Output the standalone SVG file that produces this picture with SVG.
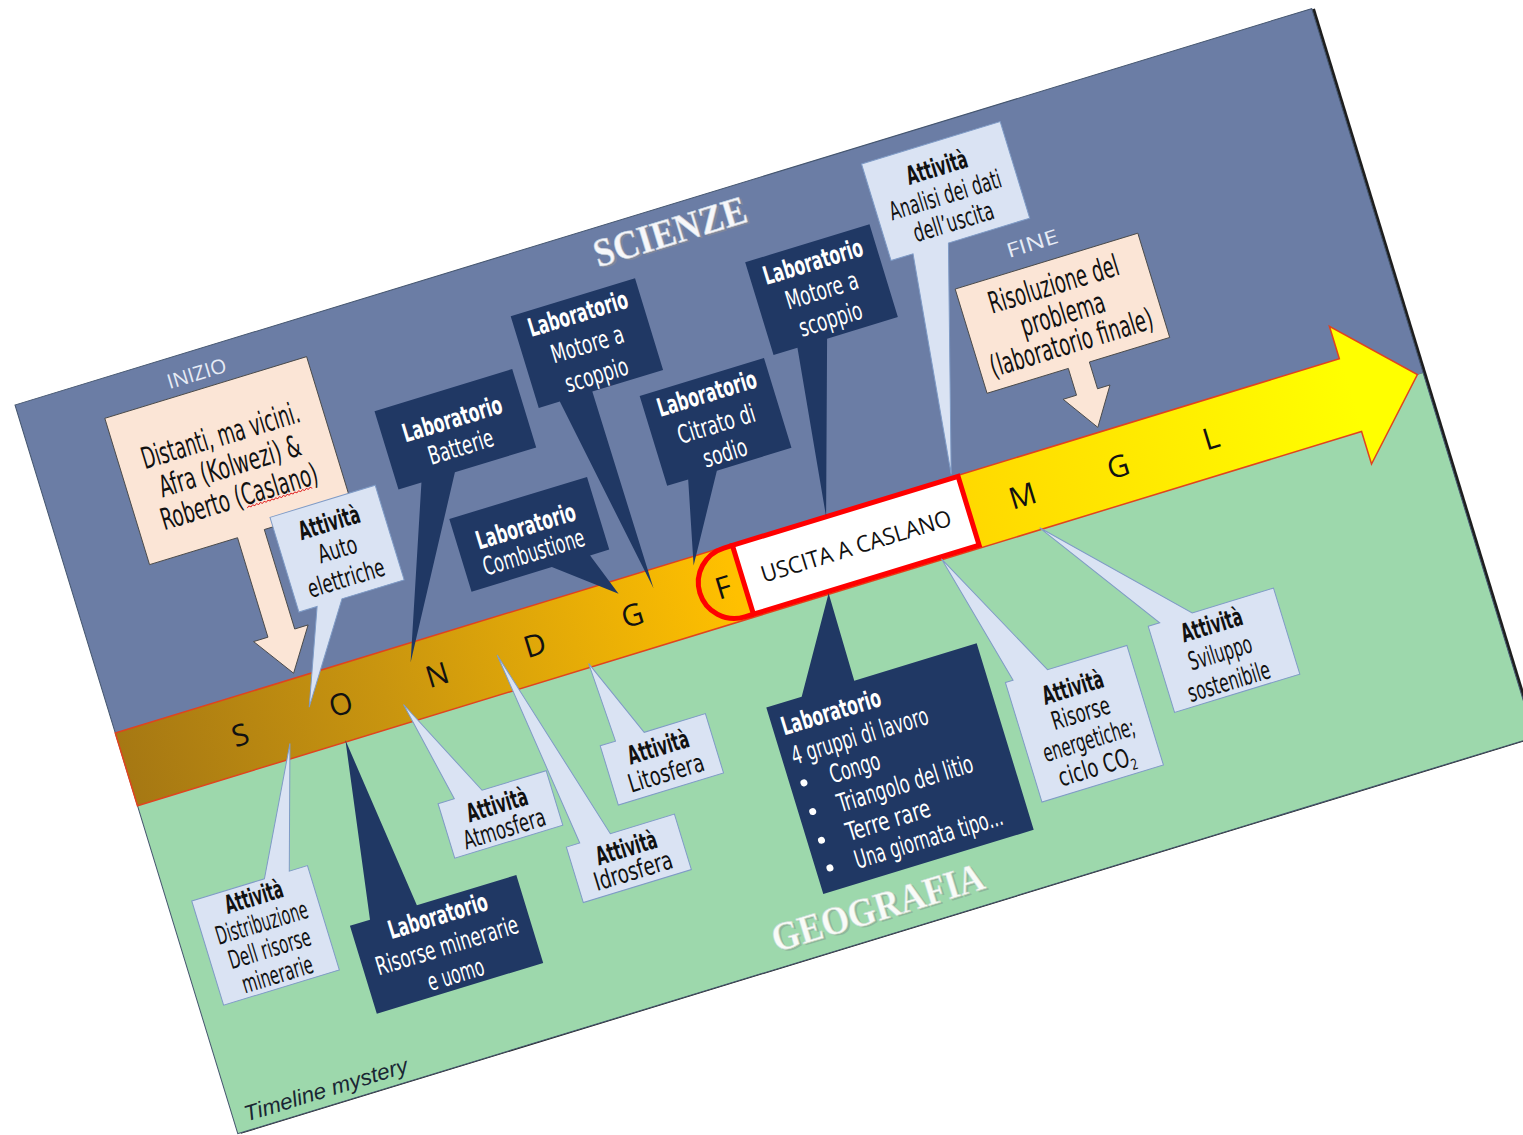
<svg xmlns="http://www.w3.org/2000/svg" width="1523" height="1135" viewBox="0 0 1523 1135">
<defs>
<linearGradient id="band" gradientUnits="userSpaceOnUse" x1="0" y1="0" x2="1350" y2="0">
<stop offset="0" stop-color="#a67813"/>
<stop offset="0.2" stop-color="#c9950f"/>
<stop offset="0.47" stop-color="#ffc000"/>
<stop offset="0.7" stop-color="#ffdf00"/>
<stop offset="0.95" stop-color="#ffff00"/>
</linearGradient>
<style>
.lt{fill:#dae3f3;stroke:#7f9bc6;stroke-width:1}
.nv{fill:#203864}
.pc{fill:#fbe5d6;stroke:#4a4a4a;stroke-width:0.9}
.t{font-family:"DejaVu Sans Condensed","DejaVu Sans",sans-serif;font-stretch:condensed;text-anchor:middle;font-size:25.5px;fill:#111}
.tp{font-size:30px}
.tb{font-weight:bold}
.tw{fill:#fff}
.ts{text-anchor:start}
.bl{font-family:"Open Sans","Liberation Sans",sans-serif;font-size:30px;text-anchor:middle;fill:#111}
.lbl{font-family:"Open Sans","Liberation Sans",sans-serif;font-size:20px;text-anchor:middle;fill:#e6ebf5}
.ttl{font-family:"Liberation Serif",serif;font-weight:bold;font-size:40px;text-anchor:middle}
</style>
</defs>
<rect width="1523" height="1135" fill="#ffffff"/>
<g transform="translate(15,405) rotate(-17)">
  <rect x="3" y="1" width="1356" height="762" fill="#1e1e1e"/>
  <rect x="0" y="0" width="1356" height="381" fill="#6b7da5"/>
  <rect x="0" y="381" width="1356" height="381" fill="#9dd8ac"/>
  <rect x="0" y="0" width="1356" height="762" fill="none" stroke="#45566f" stroke-width="1"/>

  <text class="ttl" x="679" y="41" textLength="158" lengthAdjust="spacingAndGlyphs" fill="#7d879b">SCIENZE</text>
  <text class="ttl" x="677" y="39" textLength="158" lengthAdjust="spacingAndGlyphs" fill="#f6f7fa" stroke="#c9cfdb" stroke-width="0.6">SCIENZE</text>
  <text class="ttl" x="680" y="748" textLength="220" lengthAdjust="spacingAndGlyphs" fill="#8fb89c">GEOGRAFIA</text>
  <text class="ttl" x="678" y="746" textLength="220" lengthAdjust="spacingAndGlyphs" fill="#f8fbf8" stroke="#d0dcd2" stroke-width="0.6">GEOGRAFIA</text>
  <text x="12" y="753" font-family="'Liberation Sans',sans-serif" font-style="italic" font-size="22" fill="#1a2633" textLength="170" lengthAdjust="spacingAndGlyphs">Timeline mystery</text>
  <text class="lbl" x="183" y="30" textLength="61" lengthAdjust="spacingAndGlyphs">INIZIO</text>
  <text class="lbl" x="1020" y="150" textLength="53" lengthAdjust="spacingAndGlyphs">FINE</text>

  <g id="connectors">
    <g id="timeline">
      <path d="M0,343 H1280 V309 L1350,381 L1280,453 V419 H0 Z" fill="url(#band)" stroke="#e0431f" stroke-width="1.5"/>
      <text class="bl" x="119" y="392">S</text>
      <text class="bl" x="224" y="392">O</text>
      <text class="bl" x="325" y="392">N</text>
      <text class="bl" x="427" y="392">D</text>
      <text class="bl" x="529" y="392">G</text>
      <text class="bl" x="937" y="392">M</text>
      <text class="bl" x="1037" y="392">G</text>
      <text class="bl" x="1134" y="392">L</text>
    </g>
  </g>

  <g id="uscita">
    <path d="M645,344 H636 A36,36 0 0 0 636,416 H645" fill="none" stroke="#ff0000" stroke-width="5"/>
    <text class="bl" x="624" y="392">F</text>
    <rect x="645" y="344" width="236" height="72" fill="#ffffff" stroke="#ff0000" stroke-width="5"/>
    <text x="763" y="389" font-family="'Open Sans','Liberation Sans',sans-serif" font-size="23" text-anchor="middle" fill="#111" textLength="198" lengthAdjust="spacingAndGlyphs">USCITA A CASLANO</text>
  </g>

  <g id="inizio">
    <path class="pc" d="M82,39 H293 V192 H202 V296 H216 L188,338 L159,296 H174 V192 H82 Z"/>
    <text class="t tp" x="187.5" y="99.5" textLength="164" lengthAdjust="spacingAndGlyphs">Distanti, ma vicini.</text>
    <text class="t tp" x="187.5" y="131.5" textLength="147" lengthAdjust="spacingAndGlyphs">Afra (Kolwezi) &amp;</text>
    <text class="t tp" x="187.5" y="163.5" textLength="163" lengthAdjust="spacingAndGlyphs">Roberto (Caslano)</text>
    <path d="M192,166.5 l2,-1.6 l2,1.6 l2,-1.6 l2,1.6 l2,-1.6 l2,1.6 l2,-1.6 l2,1.6 l2,-1.6 l2,1.6 l2,-1.6 l2,1.6 l2,-1.6 l2,1.6 l2,-1.6 l2,1.6 l2,-1.6 l2,1.6 l2,-1.6 l2,1.6 l2,-1.6 l2,1.6 l2,-1.6 l2,1.6 l2,-1.6 l2,1.6 l2,-1.6 l2,1.6 l2,-1.6 l2,1.6 l2,-1.6 l2,1.6 l2,-1.6 l2,1.6" fill="none" stroke="#e02020" stroke-width="0.9"/>
  </g>

  <g id="fine">
    <path class="pc" d="M933,164 H1124 V273 H1040 V301 H1053 L1029,338 L1004,301 H1018 V273 H933 Z"/>
    <text class="t tp" x="1028.5" y="198.5" textLength="135" lengthAdjust="spacingAndGlyphs">Risoluzione del</text>
    <text class="t tp" x="1028.5" y="229.5" textLength="87" lengthAdjust="spacingAndGlyphs">problema</text>
    <text class="t tp" x="1028.5" y="259.5" textLength="169" lengthAdjust="spacingAndGlyphs">(laboratorio finale)</text>
  </g>

  <g id="auto-elettriche">
    <path class="lt" d="M211,182 H321 V281 H256 L193,375 L230,281 H211 Z"/>
    <text class="t tb" x="266" y="213" textLength="63" lengthAdjust="spacingAndGlyphs">Attività</text>
    <text class="t" x="266" y="241" textLength="40" lengthAdjust="spacingAndGlyphs">Auto</text>
    <text class="t" x="266" y="271" textLength="79" lengthAdjust="spacingAndGlyphs">elettriche</text>
  </g>

  <g id="lab-batterie">
    <path class="nv" d="M342,111 H486 V193 H401 L303,362 L366,193 H342 Z"/>
    <text class="t tb tw" x="414" y="150" textLength="103" lengthAdjust="spacingAndGlyphs">Laboratorio</text>
    <text class="t tw" x="414" y="179" textLength="67" lengthAdjust="spacingAndGlyphs">Batterie</text>
  </g>

  <g id="lab-motore-1">
    <path class="nv" d="M500,60 H630 V156 H556 L557,362 L522,156 H500 Z"/>
    <text class="t tb tw" x="565" y="86" textLength="103" lengthAdjust="spacingAndGlyphs">Laboratorio</text>
    <text class="t tw" x="565" y="118" textLength="75" lengthAdjust="spacingAndGlyphs">Motore a</text>
    <text class="t tw" x="565" y="150" textLength="65" lengthAdjust="spacingAndGlyphs">scoppio</text>
  </g>

  <g id="lab-combustione">
    <path class="nv" d="M382,236 H526 V312 H506 L522,357 L466,312 H382 Z"/>
    <text class="t tb tw" x="453" y="274" textLength="103" lengthAdjust="spacingAndGlyphs">Laboratorio</text>
    <text class="t tw" x="453" y="301" textLength="105" lengthAdjust="spacingAndGlyphs">Combustione</text>
  </g>

  <g id="lab-citrato">
    <path class="nv" d="M600,174 H730 V268 H652 L602,352 L622,268 H600 Z"/>
    <text class="t tb tw" x="665" y="200" textLength="103" lengthAdjust="spacingAndGlyphs">Laboratorio</text>
    <text class="t tw" x="665" y="232" textLength="80" lengthAdjust="spacingAndGlyphs">Citrato di</text>
    <text class="t tw" x="665" y="262" textLength="45" lengthAdjust="spacingAndGlyphs">sodio</text>
  </g>

  <g id="lab-motore-2">
    <path class="nv" d="M740,77 H870 V174 H796 L743,344 L765,174 H740 Z"/>
    <text class="t tb tw" x="805" y="105" textLength="103" lengthAdjust="spacingAndGlyphs">Laboratorio</text>
    <text class="t tw" x="805" y="135" textLength="75" lengthAdjust="spacingAndGlyphs">Motore a</text>
    <text class="t tw" x="805" y="165" textLength="65" lengthAdjust="spacingAndGlyphs">scoppio</text>
  </g>

  <g id="att-analisi">
    <path class="lt" d="M880,17 H1025 V118 H940 L875,340 L903,118 H880 Z"/>
    <text class="t tb" x="951" y="51" textLength="63" lengthAdjust="spacingAndGlyphs">Attività</text>
    <text class="t" x="951" y="80" textLength="116" lengthAdjust="spacingAndGlyphs">Analisi dei dati</text>
    <text class="t" x="951" y="108" textLength="83" lengthAdjust="spacingAndGlyphs">dell’uscita</text>
  </g>

  <g id="att-distribuzione">
    <path class="lt" d="M24,526 H100 L164,404 L126,526 H145 V635 H24 Z"/>
    <text class="t tb" x="84.5" y="549" textLength="60" lengthAdjust="spacingAndGlyphs">Attività</text>
    <text class="t" x="84.5" y="576" textLength="95" lengthAdjust="spacingAndGlyphs">Distribuzione</text>
    <text class="t" x="84.5" y="603" textLength="85" lengthAdjust="spacingAndGlyphs">Dell risorse</text>
    <text class="t" x="84.5" y="630" textLength="73" lengthAdjust="spacingAndGlyphs">minerarie</text>
  </g>

  <g id="lab-risorse-minerarie">
    <path class="nv" d="M168,596 H189 L218,417 L238,596 H342 V688 H168 Z"/>
    <text class="t tb tw" x="255" y="621" textLength="103" lengthAdjust="spacingAndGlyphs">Laboratorio</text>
    <text class="t tw" x="255" y="652" textLength="148" lengthAdjust="spacingAndGlyphs">Risorse minerarie</text>
    <text class="t tw" x="255" y="682" textLength="58" lengthAdjust="spacingAndGlyphs">e uomo</text>
  </g>

  <g id="att-atmosfera">
    <path class="lt" d="M288,505 H305 L284,400 L334,505 H401 V562 H288 Z"/>
    <text class="t tb" x="344" y="532" textLength="63" lengthAdjust="spacingAndGlyphs">Attività</text>
    <text class="t" x="344" y="557" textLength="85" lengthAdjust="spacingAndGlyphs">Atmosfera</text>
  </g>

  <g id="att-idrosfera">
    <path class="lt" d="M398,584 H412 L388,380 L444,584 H511 V642 H398 Z"/>
    <text class="t tb" x="455" y="611" textLength="63" lengthAdjust="spacingAndGlyphs">Attività</text>
    <text class="t" x="455" y="635" textLength="81" lengthAdjust="spacingAndGlyphs">Idrosfera</text>
  </g>

  <g id="att-litosfera">
    <path class="lt" d="M460,497 H476 L473,415 L506,497 H570 V559 H460 Z"/>
    <text class="t tb" x="515" y="524" textLength="63" lengthAdjust="spacingAndGlyphs">Attività</text>
    <text class="t" x="515" y="551" textLength="78" lengthAdjust="spacingAndGlyphs">Litosfera</text>
  </g>

  <g id="lab-gruppi">
    <path class="nv" d="M630,509 H667 L723,418 L722,509 H850 V704 H630 Z"/>
    <text class="t tb tw ts" x="639" y="541" textLength="103" lengthAdjust="spacingAndGlyphs">Laboratorio</text>
    <text class="t tw ts" x="640" y="572" textLength="142" lengthAdjust="spacingAndGlyphs">4 gruppi di lavoro</text>
    <circle cx="644" cy="592" r="3.5" fill="#fff"/>
    <circle cx="644" cy="622" r="3.5" fill="#fff"/>
    <circle cx="644" cy="652" r="3.5" fill="#fff"/>
    <circle cx="644" cy="681" r="3.5" fill="#fff"/>
    <text class="t tw ts" x="671" y="601" textLength="52" lengthAdjust="spacingAndGlyphs">Congo</text>
    <text class="t tw ts" x="670" y="631" textLength="141" lengthAdjust="spacingAndGlyphs">Triangolo del litio</text>
    <text class="t tw ts" x="670" y="661" textLength="87" lengthAdjust="spacingAndGlyphs">Terre rare</text>
    <text class="t tw ts" x="670" y="690" textLength="154" lengthAdjust="spacingAndGlyphs">Una giornata tipo...</text>
  </g>

  <g id="att-energetiche">
    <path class="lt" d="M866,555 H874 L841,418 L910,555 H993 V680 H866 Z"/>
    <text class="t tb" x="929" y="588" textLength="63" lengthAdjust="spacingAndGlyphs">Attività</text>
    <text class="t" x="929" y="615" textLength="60" lengthAdjust="spacingAndGlyphs">Risorse</text>
    <text class="t" x="929" y="643" textLength="95" lengthAdjust="spacingAndGlyphs">energetiche;</text>
    <text class="t" x="929" y="671" textLength="80" lengthAdjust="spacingAndGlyphs">ciclo CO<tspan font-size="15" dy="5">2</tspan></text>
  </g>

  <g id="att-sviluppo">
    <path class="lt" d="M1019,543 H1031 L944,417 L1065,543 H1150 V633 H1019 Z"/>
    <text class="t tb" x="1080" y="569" textLength="63" lengthAdjust="spacingAndGlyphs">Attività</text>
    <text class="t" x="1080" y="598" textLength="65" lengthAdjust="spacingAndGlyphs">Sviluppo</text>
    <text class="t" x="1080" y="628" textLength="85" lengthAdjust="spacingAndGlyphs">sostenibile</text>
  </g>
</g>
</svg>
